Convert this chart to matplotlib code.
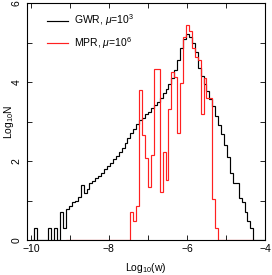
import numpy as np
import matplotlib
matplotlib.use("Agg")
import matplotlib.pyplot as plt
from matplotlib.ticker import MultipleLocator

# histogram bins in log10(w): 80 bins from -10 to -4
bin_lo = -10.0
bin_hi = -4.0
n_bins = 80

# GWR, mu=1e3 (log10 of counts per bin)
gwr = [
    0.00, 0.30, 0.00, 0.00, 0.00, 0.00, 0.30, 0.00, 0.30, 0.00,
    0.70, 0.30, 0.78, 0.85, 0.95, 1.00, 1.08, 1.38, 1.20, 1.28,
    1.45, 1.50, 1.56, 1.62, 1.70, 1.79, 1.88, 1.95, 2.04, 2.12,
    2.23, 2.32, 2.45, 2.57, 2.70, 2.82, 2.93, 3.04, 3.10, 3.18,
    3.25, 3.34, 3.42, 3.50, 3.60, 3.72, 3.83, 3.95, 4.09, 4.30,
    4.55, 4.85, 5.08, 5.22, 5.15, 5.00, 4.75, 4.35, 4.15, 3.95,
    3.78, 3.58, 3.38, 3.15, 2.92, 2.68, 2.40, 2.10, 1.70, 1.45,
    1.44, 1.06, 0.96, 0.71, 0.48, 0.30, 0.00, 0.00, 0.00, 0.00,
]

# MPR, mu=1e6, only defined on bins 12..75
mpr_first = 12
mpr = [
    0.00, 0.00, 0.00, 0.00, 0.00, 0.00, 0.00, 0.00,
    0.00, 0.00, 0.00, 0.00, 0.00, 0.00, 0.00, 0.00,
    0.00, 0.00, 0.00, 0.00, 0.00, 0.00,
    0.70, 0.48, 0.85, 3.81, 2.66, 2.07, 1.35, 2.15,
    4.32, 4.32, 1.22, 2.24, 1.52, 3.32, 4.26, 4.13, 2.70, 3.97,
    5.15, 5.44, 5.29, 4.85, 4.64, 4.56, 3.20, 4.09, 3.59, 3.59,
    1.03, 0.30, 0.00, 0.00, 0.00, 0.00, 0.00, 0.00, 0.00, 0.00,
    0.00, 0.00, 0.00, 0.00,
]

labels = [r"GWR, $\mu$=10$^3$", r"MPR, $\mu$=10$^6$"]

plt.rcParams["font.family"] = ["Liberation Sans", "DejaVu Sans"]
plt.rcParams["mathtext.fontset"] = "custom"
plt.rcParams["mathtext.rm"] = "Liberation Sans"
plt.rcParams["mathtext.it"] = "Liberation Sans:italic"
plt.rcParams["font.size"] = 7.5


def main():
    edges = np.linspace(bin_lo, bin_hi, n_bins + 1)

    fig = plt.figure(figsize=(2.72, 2.75), dpi=100)
    ax = fig.add_axes([27 / 272, 35 / 275, 238 / 272, 237 / 275])

    ax.stairs(gwr, edges, color="black", lw=0.85, baseline=0, label=labels[0])
    red_edges = edges[mpr_first:mpr_first + len(mpr) + 1]
    ax.stairs(mpr, red_edges, color="#ff2020", lw=0.85, baseline=0, label=labels[1])

    ax.set_xlim(-10.1, -4)
    ax.set_ylim(0, 6)

    ax.xaxis.set_major_locator(MultipleLocator(2))
    ax.xaxis.set_minor_locator(MultipleLocator(1))
    ax.yaxis.set_major_locator(MultipleLocator(2))
    ax.yaxis.set_minor_locator(MultipleLocator(1))
    for which in ("major", "minor"):
        ax.tick_params(which=which, direction="in", length=3.5, width=0.6,
                       top=True, right=True, pad=3, labelsize=7.5)
    ax.tick_params(axis="y", pad=4)
    for lab in ax.get_yticklabels():
        lab.set_rotation(90)
        lab.set_va("center")
    for sp in ax.spines.values():
        sp.set_linewidth(0.8)

    ax.set_xlabel(r"Log$_{10}$(w)", fontsize=7.5, labelpad=5)
    ax.set_ylabel(r"Log$_{10}$N", fontsize=7.5, va="center")
    ax.yaxis.set_label_coords(-0.075, 0.5)

    ax.legend(loc="upper left", frameon=False, fontsize=7.5, handlelength=2.0,
              handletextpad=0.6, labelspacing=0.65, borderaxespad=0.0,
              borderpad=0.0, bbox_to_anchor=(0.084, 0.96))

    fig.savefig("out.png", dpi=100)
    plt.close(fig)


if __name__ == "__main__":
    main()
